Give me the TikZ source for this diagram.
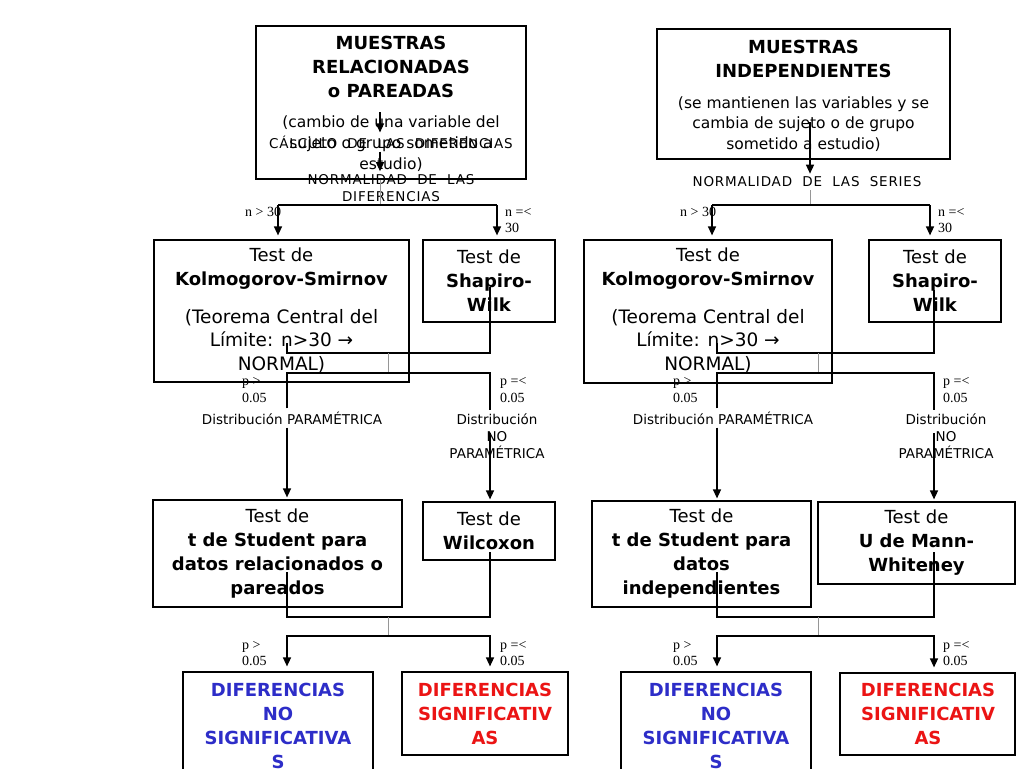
\documentclass[tikz,border=0pt]{standalone}
\usepackage{fontspec}
\setmainfont{DejaVu Sans}
\newfontfamily\timesfont{Liberation Serif}
\usetikzlibrary{arrows.meta}

\begin{document}
\begin{tikzpicture}[x=1pt,y=-1pt,
  box/.style={draw=drawColor,line width=1.2pt,inner sep=0pt},
  bigtext/.style={text=drawColor,align=center,inner sep=0pt,font=\fontsize{18}{24}\selectfont},
  titletext/.style={bigtext,font=\bfseries\fontsize{18}{24}\selectfont},
  desctext/.style={text=drawColor,align=center,inner sep=0pt,font=\fontsize{15.5}{21}\selectfont},
  smalltext/.style={text=drawColor,align=center,inner sep=3pt,font=\fontsize{13.5}{17}\selectfont},
  capstext/.style={smalltext,font=\addfontfeature{LetterSpace=6}\fontsize{13.5}{17}\selectfont},
  ptext/.style={text=drawColor,align=left,anchor=west,inner sep=0pt,font=\timesfont\fontsize{14}{16.5}\selectfont},
  link/.style={draw=drawColor,line width=1.4pt},
  grayline/.style={draw=grayColor,line width=1pt},
  arrowlink/.style={link,-{Triangle[length=9pt,width=8pt]}}]
\definecolor{drawColor}{RGB}{0,0,0}
\definecolor{grayColor}{RGB}{150,150,150}
\definecolor{blueColor}{RGB}{45,45,200}
\definecolor{redColor}{RGB}{235,20,20}

\path[use as bounding box,fill=white] (0,0) rectangle (1024,768);

% boxes, left half
\node[box,minimum width=270pt,minimum height=153pt] (relbox) at (391,102.5) {};
\node[box,minimum width=255pt,minimum height=142pt] (ksL) at (281.5,311) {};
\node[box,minimum width=132pt,minimum height=82pt] (swL) at (489,281) {};
\node[box,minimum width=249pt,minimum height=107pt] (tsL) at (277.5,553.5) {};
\node[box,minimum width=132pt,minimum height=58pt] (wilL) at (489,531) {};
\node[box,minimum width=190pt,minimum height=118pt] (nsL) at (278,731) {};
\node[box,minimum width=166pt,minimum height=83pt] (sgL) at (485,713.5) {};

% boxes, right half
\node[box,minimum width=293pt,minimum height=130pt] (indbox) at (803.5,94) {};
\node[box,minimum width=248pt,minimum height=143pt] (ksR) at (708,311.5) {};
\node[box,minimum width=132pt,minimum height=82pt] (swR) at (935,281) {};
\node[box,minimum width=219pt,minimum height=106pt] (tsR) at (701.5,554) {};
\node[box,minimum width=197pt,minimum height=82pt] (mwR) at (916.5,543) {};
\node[box,minimum width=190pt,minimum height=118pt] (nsR) at (716,731) {};
\node[box,minimum width=175pt,minimum height=82pt] (sgR) at (927.5,714) {};

% texts, left half
\node[titletext] (reltitle) at (391,67) {MUESTRAS\\RELACIONADAS\\o PAREADAS};
\node[desctext] (reldesc) at (391,144) {(cambio de una variable del\\sujeto o grupo sometido a\\estudio)};
\node[capstext] (calcL) at (391,142) {CÁLCULO\ \ DE\ \ LAS\ \ DIFERENCIAS};
\node[capstext] (normL) at (391,188) {NORMALIDAD\ \ DE\ \ LAS\\DIFERENCIAS};
\node[bigtext] (ksLtitle) at (281.5,269) {Test de\\\textbf{Kolmogorov-Smirnov}};
\node[bigtext,font=\fontsize{18.5}{23.5}\selectfont] (ksLdesc) at (281.5,341) {(Teorema Central del\\Límite: n>30 →\\NORMAL)};
\node[bigtext] (swLtext) at (489,281) {Test de\\\textbf{Shapiro-}\\\textbf{Wilk}};
\node[smalltext] (parL) at (292,418) {Distribución PARAMÉTRICA};
\node[smalltext] (noparL) at (497,436) {Distribución\\NO\\PARAMÉTRICA};
\node[bigtext] (tsLtext) at (277.5,554) {Test de\\\textbf{t de Student para}\\\textbf{datos relacionados o}\\\textbf{pareados}};
\node[bigtext] (wilLtext) at (489,531) {Test de\\\textbf{Wilcoxon}};
\node[titletext,text=blueColor] (nsLtext) at (278,726) {DIFERENCIAS\\NO\\SIGNIFICATIVA\\S};
\node[titletext,text=redColor] (sgLtext) at (485,714) {DIFERENCIAS\\SIGNIFICATIV\\AS};

% texts, right half
\node[titletext] (indtitle) at (803.5,58.5) {MUESTRAS\\INDEPENDIENTES};
\node[desctext,font=\fontsize{15.5}{20.5}\selectfont] (inddesc) at (803.5,124) {(se mantienen las variables y se\\cambia de sujeto o de grupo\\sometido a estudio)};
\node[capstext] (normR) at (807,182) {NORMALIDAD\ \ DE\ \ LAS\ \ SERIES};
\node[bigtext] (ksRtitle) at (708,269) {Test de\\\textbf{Kolmogorov-Smirnov}};
\node[bigtext,font=\fontsize{18.5}{23.5}\selectfont] (ksRdesc) at (708,341) {(Teorema Central del\\Límite: n>30 →\\NORMAL)};
\node[bigtext] (swRtext) at (935,281) {Test de\\\textbf{Shapiro-}\\\textbf{Wilk}};
\node[smalltext] (parR) at (723,418) {Distribución PARAMÉTRICA};
\node[smalltext] (noparR) at (946,436) {Distribución\\NO\\PARAMÉTRICA};
\node[bigtext] (tsRtext) at (701.5,554) {Test de\\\textbf{t de Student para}\\\textbf{datos}\\\textbf{independientes}};
\node[bigtext] (mwRtext) at (916.5,543) {Test de\\\textbf{U de Mann-}\\\textbf{Whiteney}};
\node[titletext,text=blueColor] (nsRtext) at (716,726) {DIFERENCIAS\\NO\\SIGNIFICATIVA\\S};
\node[titletext,text=redColor] (sgRtext) at (928,714) {DIFERENCIAS\\SIGNIFICATIV\\AS};

% p and n labels
\node[ptext] (ngtL) at (245,212) {n > 30};
\node[ptext] (nleL) at (505,220.5) {n =<\\30};
\node[ptext] (pgtL) at (242,390) {p >\\0.05};
\node[ptext] (pleL) at (500,390) {p =<\\0.05};
\node[ptext] (pgtL2) at (242,653.5) {p >\\0.05};
\node[ptext] (pleL2) at (500,653.5) {p =<\\0.05};
\node[ptext] (ngtR) at (680,212) {n > 30};
\node[ptext] (nleR) at (938,220.5) {n =<\\30};
\node[ptext] (pgtR) at (673,390) {p >\\0.05};
\node[ptext] (pleR) at (943,390) {p =<\\0.05};
\node[ptext] (pgtR2) at (673,653.5) {p >\\0.05};
\node[ptext] (pleR2) at (943,653.5) {p =<\\0.05};

% joints
\coordinate (relout) at (380,112);
\coordinate (forkL) at (380,205);
\coordinate (brLa) at (278,205);
\coordinate (brLb) at (497,205);
\coordinate (ksLout) at (287,343);
\coordinate (swLout) at (490,287);
\coordinate (joinL) at (388,353);
\coordinate (splitL) at (388,373);
\coordinate (noparLout) at (490,433);
\coordinate (tsLout) at (287,572);
\coordinate (wilLout) at (490,552);
\coordinate (joinL2) at (388,617);
\coordinate (splitL2) at (388,636);

\coordinate (indout) at (810,122);
\coordinate (forkR) at (810,205);
\coordinate (brRa) at (712,205);
\coordinate (brRb) at (930,205);
\coordinate (ksRout) at (717,343);
\coordinate (swRout) at (934,290);
\coordinate (joinR) at (818,353);
\coordinate (splitR) at (818,373);
\coordinate (noparRout) at (934,433);
\coordinate (tsRout) at (717,572);
\coordinate (mwRout) at (934,552);
\coordinate (joinR2) at (818,617);
\coordinate (splitR2) at (818,636);

% connectors, left half
\draw[arrowlink] (relout) -- (relout |- calcL.north);
\draw[arrowlink] (relout |- calcL.south) -- (relout |- normL.north);
\draw[grayline] (relbox.south -| forkL) -- (forkL);
\draw[link] (brLa) -- (brLb);
\draw[arrowlink,shorten >=4pt] (brLa) -- (brLa |- ksL.north);
\draw[arrowlink,shorten >=4pt] (brLb) -- (brLb |- swL.north);
\draw[link] (ksLout) |- (joinL) -| (swLout);
\draw[grayline] (joinL) -- (splitL);
\draw[link] (parL.north -| ksLout) |- (splitL) -| (noparL.north -| noparLout);
\draw[arrowlink,shorten >=2pt] (parL.south -| ksLout) -- (ksLout |- tsL.north);
\draw[arrowlink,shorten >=2pt] (noparLout) -- (noparLout |- wilL.north);
\draw[link] (tsLout) |- (joinL2) -| (wilLout);
\draw[grayline] (joinL2) -- (splitL2);
\draw[arrowlink,shorten >=5pt] (splitL2) -| (tsLout |- nsL.north);
\draw[arrowlink,shorten >=5pt] (splitL2) -| (wilLout |- sgL.north);

% connectors, right half
\draw[arrowlink] (indout) -- (indout |- normR.north);
\draw[grayline] (normR.south -| forkR) -- (forkR);
\draw[link] (brRa) -- (brRb);
\draw[arrowlink,shorten >=4pt] (brRa) -- (brRa |- ksR.north);
\draw[arrowlink,shorten >=4pt] (brRb) -- (brRb |- swR.north);
\draw[link] (ksRout) |- (joinR) -| (swRout);
\draw[grayline] (joinR) -- (splitR);
\draw[link] (parR.north -| ksRout) |- (splitR) -| (noparR.north -| noparRout);
\draw[arrowlink,shorten >=2pt] (parR.south -| ksRout) -- (ksRout |- tsR.north);
\draw[arrowlink,shorten >=2pt] (noparRout) -- (noparRout |- mwR.north);
\draw[link] (tsRout) |- (joinR2) -| (mwRout);
\draw[grayline] (joinR2) -- (splitR2);
\draw[arrowlink,shorten >=5pt] (splitR2) -| (tsRout |- nsR.north);
\draw[arrowlink,shorten >=5pt] (splitR2) -| (mwRout |- sgR.north);
\end{tikzpicture}
\end{document}
